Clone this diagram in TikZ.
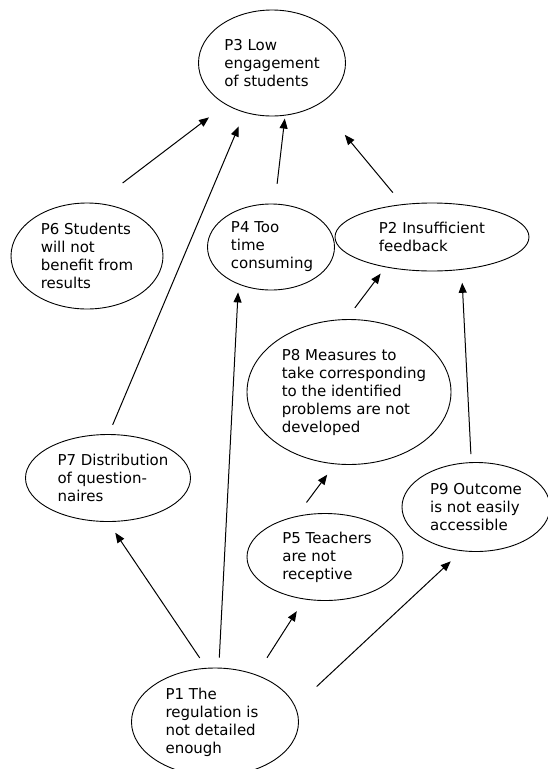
\documentclass[tikz,border=0pt]{standalone}
\usepackage{fontspec}
\setmainfont{DejaVu Sans}
\usetikzlibrary{shapes.geometric}
\usetikzlibrary{arrows.meta}

\begin{document}
\begin{tikzpicture}[
        x = 1pt,
        y = -1pt,
        problem/.style={
          draw, ellipse,
          line width = 0.9pt,
          inner sep = 0pt,
        },
        problem text/.style={
          align = left,
          inner sep = 0pt,
          font = \fontsize{15}{18}\selectfont,
        },
        cause/.style={
          -{Triangle[length=10pt, width=8pt]},
          line width = 1pt,
        },
        ]
        \useasboundingbox (0,0) rectangle (547,769);

        \node [problem, minimum width=147, minimum height=106] (p3) at (272,63) {};
        \node [problem, minimum width=152, minimum height=106] (p6) at (87,256) {};
        \node [problem, minimum width=127, minimum height=86] (p4) at (271,247) {};
        \node [problem, minimum width=194, minimum height=68] (p2) at (432,237) {};
        \node [problem, minimum width=204, minimum height=145] (p8) at (349,392) {};
        \node [problem, minimum width=165, minimum height=87] (p7) at (108,478) {};
        \node [problem, minimum width=148, minimum height=89] (p9) at (476,507) {};
        \node [problem, minimum width=156, minimum height=87] (p5) at (325,557) {};
        \node [problem, minimum width=167, minimum height=108] (p1) at (215,722) {};

        \node [problem text] (t3) at (272,63) {P3 Low\\engagement\\of students};
        \node [problem text] (t6) at (87,256) {P6 Students\\will not\\benefit from\\results};
        \node [problem text] (t4) at (272,247) {P4 Too\\time\\consuming};
        \node [problem text] (t2) at (432,237) {P2 Insufficient\\feedback};
        \node [problem text] (t8) at (354,392) {P8 Measures to\\take corresponding\\to the identified\\problems are not\\developed};
        \node [problem text] (t7) at (113,478) {P7 Distribution\\of question-\\naires};
        \node [problem text] (t9) at (476,507) {P9 Outcome\\is not easily\\accessible};
        \node [problem text] (t5) at (327,557) {P5 Teachers\\are not\\receptive};
        \node [problem text] (t1) at (212,722) {P1 The\\regulation is\\not detailed\\enough};

        \draw [cause, shorten <=33pt, shorten >=21pt] (p6.80) -- (p3.222);
        \draw [cause, shorten <=10pt, shorten >=15pt] (p7.89) -- (p3.241);
        \draw [cause, shorten <=20pt, shorten >=3pt] (p4.85) -- (p3.284);
        \draw [cause, shorten <=15pt, shorten >=40pt] (p2.132) -- (p3.319);
        \draw [cause, shorten <=10pt, shorten >=8pt] (p1.86) -- (p4.229);
        \draw [cause, shorten <=12pt, shorten >=13pt] (p1.99) -- (p7.270);
        \draw [cause, shorten <=20pt, shorten >=14pt] (p1.49) -- (p5.244);
        \draw [cause, shorten <=29pt, shorten >=15pt] (p1.11) -- (p9.252);
        \draw [cause, shorten <=17pt, shorten >=13pt] (p5.125) -- (p8.259);
        \draw [cause, shorten <=14pt, shorten >=8pt] (p8.92) -- (p2.213);
        \draw [cause, shorten <=8pt, shorten >=13pt] (p9.96) -- (p2.312);
\end{tikzpicture}
\end{document}
